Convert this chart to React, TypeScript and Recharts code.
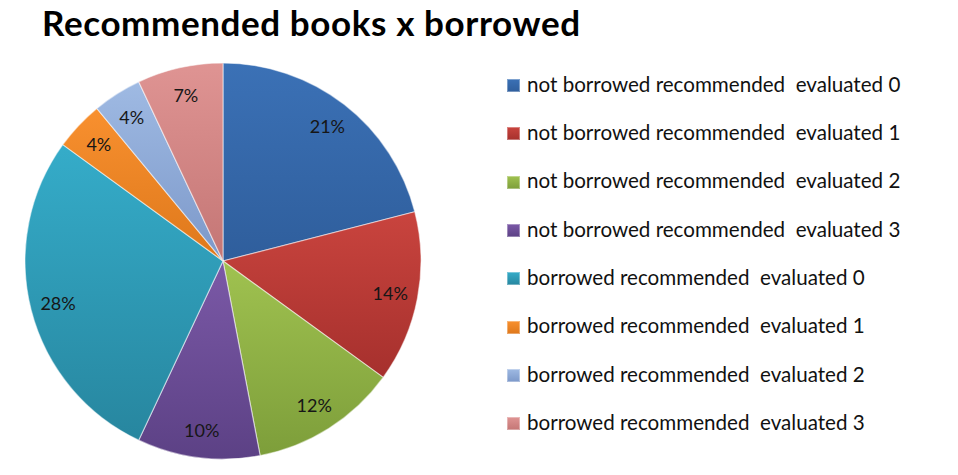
import { PieChart, Pie, Cell, Legend } from 'recharts'

const categories = [
  'not borrowed recommended  evaluated 0',
  'not borrowed recommended  evaluated 1',
  'not borrowed recommended  evaluated 2',
  'not borrowed recommended  evaluated 3',
  'borrowed recommended  evaluated 0',
  'borrowed recommended  evaluated 1',
  'borrowed recommended  evaluated 2',
  'borrowed recommended  evaluated 3',
]
const shares = [21, 14, 12, 10, 28, 4, 4, 7]

const colorsTop = ['#3b71b6', '#c9443e', '#a0c250', '#7b59a7', '#35acc9', '#f8902f', '#9fbae3', '#df9493']
const colorsBottom = ['#2f5e9c', '#a6302d', '#7d9e3a', '#5c4185', '#27869f', '#de781b', '#7c98c9', '#c47675']

const data = categories.map((name, i) => ({ name, value: shares[i] }))

const RAD = Math.PI / 180

function renderLabel({ cx, cy, midAngle, outerRadius, index }: any) {
  const r = outerRadius * 0.86
  const x = cx + r * Math.cos(-midAngle * RAD)
  const y = cy + r * Math.sin(-midAngle * RAD)
  return (
    <text
      x={x}
      y={y}
      textAnchor="middle"
      dominantBaseline="central"
      fill="#161616"
      fontSize={18}
      fontFamily="Lato, sans-serif"
    >
      {`${shares[index]}%`}
    </text>
  )
}

function LegendRows() {
  return (
    <div style={{ position: 'relative', width: 0, height: 0 }}>
      {categories.map((name, i) => {
        const baseline = 92 + i * 48.3
        return (
          <div key={name}>
            <div
              style={{
                position: 'absolute',
                left: 507,
                top: baseline - 13,
                width: 13,
                height: 13,
                background: `linear-gradient(to bottom, ${colorsTop[i]}, ${colorsBottom[i]})`,
                boxShadow: 'inset 0 0 0 1px rgba(255,255,255,0.35)',
              }}
            />
            <div
              style={{
                position: 'absolute',
                left: 527,
                top: baseline - 18.2,
                fontSize: 20.6,
                lineHeight: '20.6px',
                whiteSpace: 'pre',
                color: '#111',
                fontFamily: 'Lato, sans-serif',
              }}
            >
              {name}
            </div>
          </div>
        )
      })}
    </div>
  )
}

export default function App() {
  return (
    <div
      style={{
        position: 'absolute',
        left: 0,
        top: 0,
        width: 958,
        height: 475,
        background: '#fff',
        fontFamily: 'Lato, sans-serif',
      }}
    >
      <div
        style={{
          position: 'absolute',
          left: 42,
          top: 5,
          fontSize: 35,
          lineHeight: '35px',
          fontWeight: 700,
          letterSpacing: 0.6,
          color: '#000',
          whiteSpace: 'nowrap',
        }}
      >
        Recommended books x borrowed
      </div>
      <PieChart
        width={958}
        height={475}
        margin={{ top: 0, right: 0, bottom: 0, left: 0 }}
        style={{ position: 'absolute', left: 0, top: 0 }}
      >
        <defs>
          {colorsTop.map((c, i) => (
            <linearGradient key={i} id={`slice${i}`} x1="0" y1="0" x2="0" y2="1">
              <stop offset="0%" stopColor={c} />
              <stop offset="100%" stopColor={colorsBottom[i]} />
            </linearGradient>
          ))}
        </defs>
        <Pie
          data={data}
          dataKey="value"
          nameKey="name"
          cx={223}
          cy={261}
          outerRadius={198}
          startAngle={90}
          endAngle={-270}
          label={renderLabel}
          labelLine={false}
          stroke="rgba(255,255,255,0.5)"
          strokeWidth={1.2}
          isAnimationActive={false}
        >
          {data.map((d, i) => (
            <Cell key={d.name} fill={`url(#slice${i})`} />
          ))}
        </Pie>
        <Legend content={() => <LegendRows />} wrapperStyle={{ left: 0, top: 0, width: 0, height: 0 }} />
      </PieChart>
    </div>
  )
}
